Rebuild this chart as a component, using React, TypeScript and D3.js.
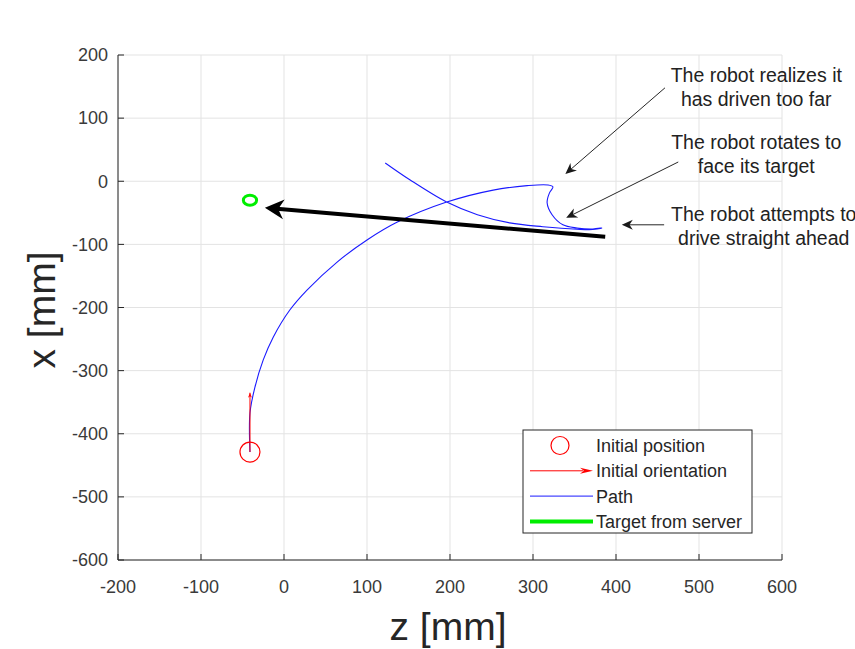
import React, { useEffect, useRef } from "react";
import * as d3 from "d3";

const zTicks = [-200, -100, 0, 100, 200, 300, 400, 500, 600];
const xTicks = [200, 100, 0, -100, -200, -300, -400, -500, -600];

// driven path, z and x in mm
const pathZ = [-41, -41, -35, -25, -13, 7, 28, 64, 100, 136, 196, 252, 293, 318, 324, 320, 317, 323, 336, 353, 372, 383, 372, 353, 312, 272, 233, 196, 152, 122];
const pathX = [-429, -367, -326, -283, -247, -204, -172, -128, -93, -65, -33, -14, -7, -6, -9, -18, -34, -53, -69, -74, -75.6, -74, -76.5, -76, -72, -66, -53, -33, 2, 29];

const initialPos = [-41, -429];
const initialOrientTip = [-41, -335];
const targetPos = [-41, -30];
const targetRadius = 8;
const driveArrow = [[387, -88], [-23, -42]];

// annotations: [fromZ, fromX, toZ, toX]
const noteArrows = [
  [459, 148, 339, 11.5],
  [475, 30.5, 340, -58],
  [458, -69, 407, -69],
];
const noteTexts = [
  { z: 569, x: 157, lines: ["The robot realizes it", "has driven too far"] },
  { z: 569, x: 51, lines: ["The robot rotates to", "face its target"] },
  { z: 578, x: -63, lines: ["The robot attempts to", "drive straight ahead"] },
];
const legendLabels = ["Initial position", "Initial orientation", "Path", "Target from server"];

const FONT = "'Liberation Sans', Arial, Helvetica, sans-serif";

function headPath(x1: number, y1: number, x2: number, y2: number, len: number, wid: number) {
  const dx = x2 - x1, dy = y2 - y1;
  const d = Math.hypot(dx, dy);
  const ux = dx / d, uy = dy / d;
  const nx = -uy, ny = ux;
  const bx = x2 - ux * len, by = y2 - uy * len;
  const mx = x2 - ux * len * 0.7, my = y2 - uy * len * 0.7;
  return `M${x2},${y2}L${bx + nx * wid / 2},${by + ny * wid / 2}L${mx},${my}L${bx - nx * wid / 2},${by - ny * wid / 2}Z`;
}

export default function App() {
  const svgRef = useRef<SVGSVGElement>(null);

  useEffect(() => {
    const svg = d3.select(svgRef.current);
    svg.selectAll("*").remove();

    const z = d3.scaleLinear().domain([-200, 600]).range([118, 782]);
    const x = d3.scaleLinear().domain([-600, 200]).range([560, 55]);
    const axisColor = "#262626";
    const tickColor = "#3a3a3a";

    // grid
    svg.append("g").selectAll("line").data(zTicks).join("line")
      .attr("x1", d => z(d)).attr("x2", d => z(d)).attr("y1", x(-600)).attr("y2", x(200))
      .attr("stroke", "#e3e3e3").attr("stroke-width", 1);
    svg.append("g").selectAll("line").data(xTicks).join("line")
      .attr("y1", d => x(d)).attr("y2", d => x(d)).attr("x1", z(-200)).attr("x2", z(600))
      .attr("stroke", "#e3e3e3").attr("stroke-width", 1);

    // axes
    svg.append("line").attr("x1", z(-200)).attr("x2", z(-200)).attr("y1", x(-600)).attr("y2", x(200))
      .attr("stroke", axisColor);
    svg.append("line").attr("x1", z(-200)).attr("x2", z(600)).attr("y1", x(-600)).attr("y2", x(-600))
      .attr("stroke", axisColor);
    svg.append("g").selectAll("line").data(zTicks).join("line")
      .attr("x1", d => z(d)).attr("x2", d => z(d)).attr("y1", x(-600)).attr("y2", x(-600) - 6)
      .attr("stroke", axisColor);
    svg.append("g").selectAll("line").data(xTicks).join("line")
      .attr("y1", d => x(d)).attr("y2", d => x(d)).attr("x1", z(-200)).attr("x2", z(-200) + 6)
      .attr("stroke", axisColor);

    svg.append("g").selectAll("text").data(zTicks).join("text")
      .attr("x", d => z(d)).attr("y", x(-600) + 33)
      .attr("text-anchor", "middle").attr("font-size", 18).attr("font-family", FONT)
      .attr("fill", tickColor).text(d => d);
    svg.append("g").selectAll("text").data(xTicks).join("text")
      .attr("x", z(-200) - 10).attr("y", d => x(d)).attr("dy", "0.35em")
      .attr("text-anchor", "end").attr("font-size", 18).attr("font-family", FONT)
      .attr("fill", tickColor).text(d => d);

    svg.append("text").attr("x", 448).attr("y", 640).attr("text-anchor", "middle")
      .attr("font-size", 39).attr("font-family", FONT).attr("fill", axisColor).text("z [mm]");
    svg.append("text").attr("transform", "translate(55,310) rotate(-90)").attr("text-anchor", "middle")
      .attr("font-size", 39).attr("font-family", FONT).attr("fill", axisColor).text("x [mm]");

    // path
    const pts: [number, number][] = pathZ.map((d, i) => [d, pathX[i]]);
    const line = d3.line<[number, number]>().x(d => z(d[0])).y(d => x(d[1])).curve(d3.curveCatmullRom.alpha(0.5));
    svg.append("path").attr("d", line(pts)).attr("fill", "none").attr("stroke", "#1a1aff").attr("stroke-width", 1.1);

    // initial orientation
    const ox1 = z(initialPos[0]), oy1 = x(initialPos[1]);
    const ox2 = z(initialOrientTip[0]), oy2 = x(initialOrientTip[1]);
    svg.append("line").attr("x1", ox1).attr("y1", oy1).attr("x2", ox2).attr("y2", oy2)
      .attr("stroke", "#ff0000").attr("stroke-width", 1);
    svg.append("path").attr("d", headPath(ox1, oy1, ox2, oy2, 5, 4)).attr("fill", "#ff0000");
    // initial position
    svg.append("circle").attr("cx", ox1).attr("cy", oy1).attr("r", 10)
      .attr("fill", "none").attr("stroke", "#ff0000").attr("stroke-width", 1.2);

    // target
    svg.append("ellipse").attr("cx", z(targetPos[0])).attr("cy", x(targetPos[1]))
      .attr("rx", z(targetRadius) - z(0)).attr("ry", x(0) - x(targetRadius))
      .attr("fill", "none").attr("stroke", "#00ee00").attr("stroke-width", 3);

    // black drive arrow
    const [a, b] = driveArrow;
    const bx1 = z(a[0]), by1 = x(a[1]), bx2 = z(b[0]), by2 = x(b[1]);
    const dl = Math.hypot(bx2 - bx1, by2 - by1);
    svg.append("line").attr("x1", bx1).attr("y1", by1)
      .attr("x2", bx2 - (bx2 - bx1) / dl * 12).attr("y2", by2 - (by2 - by1) / dl * 12)
      .attr("stroke", "#000").attr("stroke-width", 4);
    svg.append("path").attr("d", headPath(bx1, by1, bx2, by2, 19, 20)).attr("fill", "#000");

    // annotation arrows
    noteArrows.forEach(n => {
      const x1 = z(n[0]), y1 = x(n[1]), x2 = z(n[2]), y2 = x(n[3]);
      const l = Math.hypot(x2 - x1, y2 - y1);
      svg.append("line").attr("x1", x1).attr("y1", y1)
        .attr("x2", x2 - (x2 - x1) / l * 6).attr("y2", y2 - (y2 - y1) / l * 6)
        .attr("stroke", "#262626").attr("stroke-width", 1);
      svg.append("path").attr("d", headPath(x1, y1, x2, y2, 11, 10)).attr("fill", "#1a1a1a");
    });
    noteTexts.forEach(t => {
      const tx = svg.append("text").attr("x", z(t.z)).attr("y", x(t.x))
        .attr("text-anchor", "middle").attr("font-size", 19.5).attr("font-family", FONT).attr("fill", "#222");
      t.lines.forEach((s, i) => {
        tx.append("tspan").attr("x", z(t.z)).attr("dy", i === 0 ? 0 : 23.5).text(s);
      });
    });

    // legend
    const lg = svg.append("g").attr("transform", "translate(523,430)");
    lg.append("rect").attr("x", 0).attr("y", 0).attr("width", 229).attr("height", 103)
      .attr("fill", "#fff").attr("stroke", "#262626").attr("stroke-width", 1);
    const rowY = (i: number) => 15.5 + i * 25.3;
    lg.append("circle").attr("cx", 37).attr("cy", rowY(0)).attr("r", 9)
      .attr("fill", "none").attr("stroke", "#ff0000").attr("stroke-width", 1.2);
    lg.append("line").attr("x1", 7).attr("x2", 60).attr("y1", rowY(1)).attr("y2", rowY(1))
      .attr("stroke", "#ff0000");
    lg.append("path").attr("d", headPath(7, rowY(1), 70, rowY(1), 13, 6)).attr("fill", "#ff0000");
    lg.append("line").attr("x1", 7).attr("x2", 70).attr("y1", rowY(2)).attr("y2", rowY(2))
      .attr("stroke", "#1a1aff");
    lg.append("line").attr("x1", 7).attr("x2", 70).attr("y1", rowY(3)).attr("y2", rowY(3))
      .attr("stroke", "#00ee00").attr("stroke-width", 4);
    lg.selectAll("text.lbl").data(legendLabels).join("text")
      .attr("x", 73).attr("y", (d, i) => rowY(i)).attr("dy", "0.36em")
      .attr("font-size", 18).attr("font-family", FONT).attr("fill", "#262626").text(d => d);
  }, []);

  return (
    <svg ref={svgRef} width={855} height={649}
      style={{ position: "absolute", left: 0, top: 0, background: "#fff" }} />
  );
}
